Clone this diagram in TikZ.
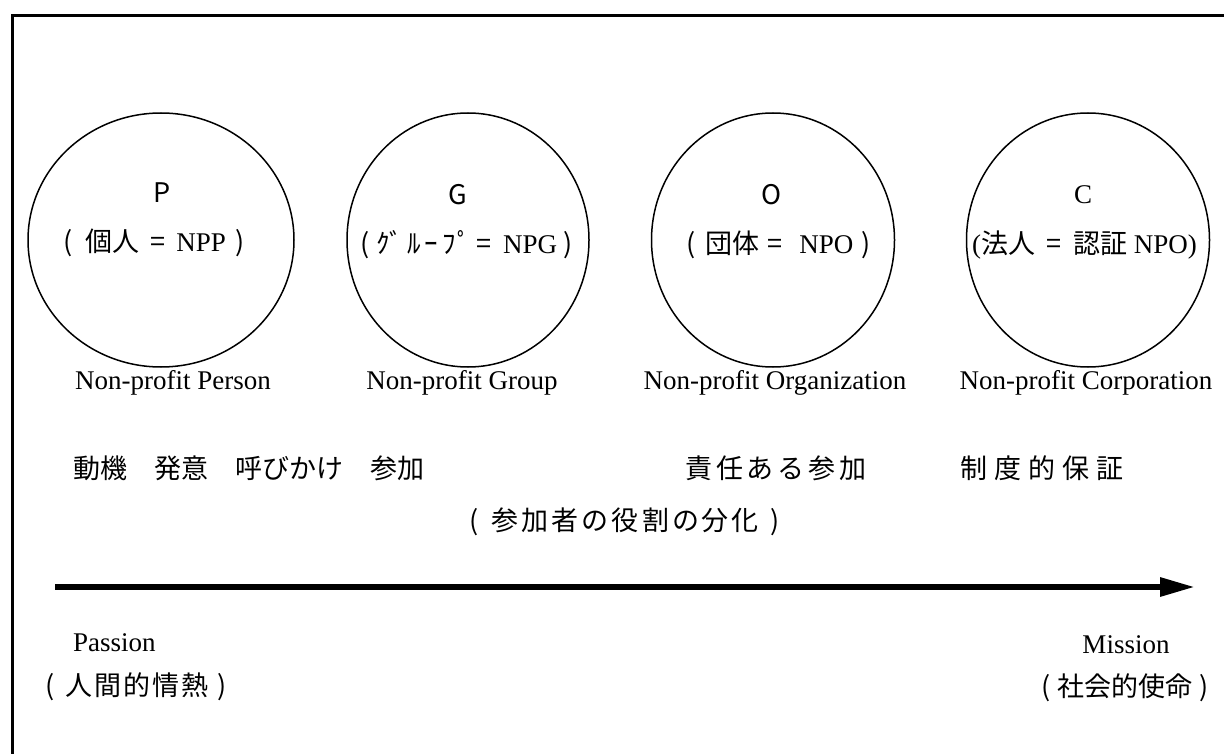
\documentclass[tikz,border=0pt]{standalone}
\usepackage{fontspec}
\setmainfont{Liberation Serif}
\newfontfamily\jp{Noto Sans CJK JP}
\usetikzlibrary{shapes.geometric,arrows.meta}
\newcommand{\hs}[1]{\hspace{#1pt}}
\tikzset{
  bubble/.style={draw, ellipse, line width=1.5pt, minimum height=254pt, inner sep=0pt},
  rm/.style={font=\fontsize{27}{32}\selectfont, inner sep=0pt},
  jt/.style={font=\fontsize{27}{32}\selectfont\jp, inner sep=0pt},
  frame/.style={line width=3pt},
  flow/.style={line width=6pt, -{Triangle[length=35pt,width=18pt]}}
}
\begin{document}
\begin{tikzpicture}[x=1pt,y=-1pt]
\useasboundingbox (0,0) rectangle (1224,754);
% frame (only top and left edges visible)
\coordinate (f1) at (12.5,754);
\coordinate (f2) at (12.5,16);
\coordinate (f3) at (1224,16);
\draw[frame] (f1) -- (f2) -- (f3);

% circles
\node[bubble, minimum width=266pt] (cP) at (161,240) {};
\node[bubble, minimum width=242pt] (cG) at (468,240) {};
\node[bubble, minimum width=243pt] (cO) at (773,240) {};
\node[bubble, minimum width=243pt] (cC) at (1088,240) {};

% circle contents
\node[jt] (tP) at (162,193) {P};
\node[jt, anchor=west] (sP) at (63,243) {(\hs{13}個人\hs{11}=\hs{11}{\rmfamily NPP}\hs{10})};
\node[jt] (tG) at (458,195) {G};
\node[jt, anchor=west] (sG) at (360,245) {(\hs{7}ｸﾞ\hs{4}ﾙ\hs{4}ｰ\hs{4}ﾌ\hs{2}ﾟ\hs{5}=\hs{5}{\rmfamily\ NPG}\hs{6})};
\node[jt] (tO) at (772,195) {O};
\node[jt, anchor=west] (sO) at (686,245) {(\hs{10}団体\hs{8}=\hs{17}{\rmfamily NPO}\hs{8})};
\node[rm] (tC) at (1083,195) {C};
\node[jt, anchor=west] (sC) at (972,245) {{\rmfamily (}法人\hs{11}=\hs{12}認証{\rmfamily\ NPO)}};

% english labels
\node[rm] (lP) at (173,383) {Non-profit Person};
\node[rm] (lG) at (462,383) {Non-profit Group};
\node[rm] (lO) at (775,383) {Non-profit Organization};
\node[rm] (lC) at (1086,383) {Non-profit Corporation};

% stage labels
\node[jt, anchor=west] (st1) at (73,468) {動機　発意　呼びかけ　参加};
\node[jt] (st2) at (776,468) {責\hs{4}任\hs{4}あ\hs{4}る\hs{4}参\hs{4}加};
\node[jt] (st3) at (1042,468) {制\hs{7}度\hs{7}的\hs{7}保\hs{7}証};
\node[jt] (st4) at (625,522) {(\hs{13}参\hs{3}加\hs{3}者\hs{3}の\hs{3}役\hs{3}割\hs{3}の\hs{3}分\hs{3}化\hs{12})};

% arrow
\coordinate (as) at (55,587);
\coordinate (ae) at (1195,587);
\draw[flow] (as) -- (ae);

% ends
\node[rm, anchor=west] (pa) at (73,643) {Passion};
\node[jt, anchor=west] (pj) at (45,687) {(\hs{11}人\hs{2}間\hs{2}的\hs{2}情\hs{2}熱\hs{9})};
\node[rm] (mi) at (1126,645) {Mission};
\node[jt] (mj) at (1125,688) {(\hs{7}社会的使命\hs{7})};
\end{tikzpicture}
\end{document}
